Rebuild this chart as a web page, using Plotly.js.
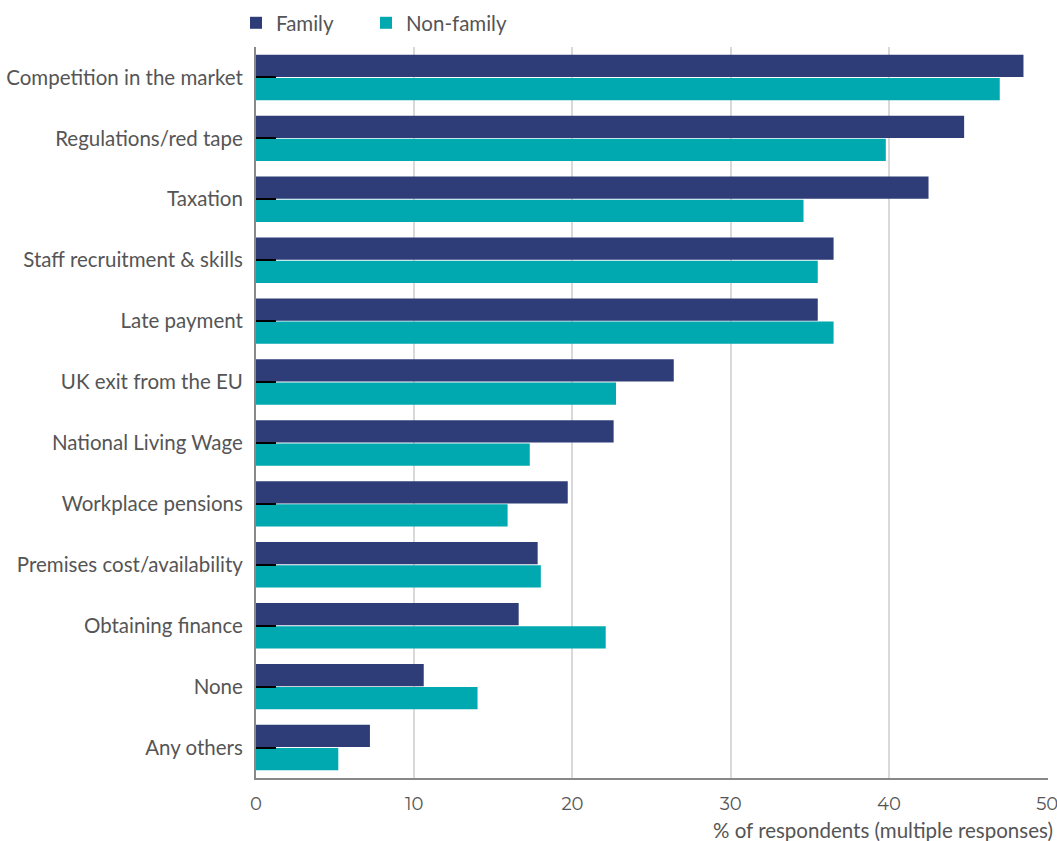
<!DOCTYPE html>
<html><head><meta charset="utf-8">
<script src="https://cdn.plot.ly/plotly-3.0.1.min.js"></script>
<style>body{margin:0;background:#fff}#chart{width:1057px;height:841px}</style>
</head><body><div id="chart"></div>
<script>
const categories = ["Competition in the market","Regulations/red tape","Taxation","Staff recruitment & skills","Late payment","UK exit from the EU","National Living Wage","Workplace pensions","Premises cost/availability","Obtaining finance","None","Any others"];
const family = [48.5,44.75,42.5,36.5,35.5,26.4,22.6,19.7,17.8,16.6,10.6,7.2];
const nonFamily = [47.0,39.8,34.6,35.5,36.5,22.75,17.3,15.9,18.0,22.1,14.0,5.2];
const xTicks = [0,10,20,30,40,50];
const xTitle = '% of respondents (multiple responses)';

const traces = [
  {type:'bar', orientation:'h', name:'Family', y:categories, x:family, marker:{color:'#2e3c78'}, legend:'legend'},
  {type:'bar', orientation:'h', name:'Non-family', y:categories, x:nonFamily, marker:{color:'#00a8b0'}, legend:'legend2'}
];
const font = {family:'Lato, "Open Sans", sans-serif', color:'#555', size:20.5};
const legBase = {orientation:'h', xref:'container', yref:'container', xanchor:'left', y:0.9727, yanchor:'middle', itemwidth:30, font:{size:20.5,color:'#555'}, bgcolor:'rgba(0,0,0,0)'};
const layout = {
  width:1057, height:841,
  margin:{l:256, r:9, t:47, b:63},
  font: font,
  showlegend:true,
  legend:Object.assign({}, legBase, {x:236/1057}),
  legend2:Object.assign({}, legBase, {x:366/1057}),
  barmode:'group', bargap:0.24, bargroupgap:0.04,
  xaxis:{range:[0,50.05], tickvals:xTicks, showgrid:true, gridcolor:'#d9d9d9', gridwidth:1.5, zeroline:false,
    showline:true, linecolor:'#888', linewidth:2, ticks:'', ticklabelstandoff:8, ticklabeloverflow:'allow',
    tickfont:{size:18, family:'Montserrat, Lato, sans-serif', color:'#555'}},
  yaxis:{autorange:'reversed', showline:true, linecolor:'#888', linewidth:2, ticks:'inside', ticklen:20, tickwidth:2, tickcolor:'#000',
    ticklabelstandoff:7, showgrid:false, tickfont:{size:20.5,color:'#555'}},
  annotations:[{text:xTitle, xref:'paper', yref:'paper', x:1, xanchor:'right', xshift:7, y:0, yanchor:'middle', yshift:-52,
    showarrow:false, font:{size:20.5,color:'#555'}}],
  plot_bgcolor:'#fff', paper_bgcolor:'#fff'
};
Plotly.newPlot('chart', traces, layout, {displayModeBar:false});
</script></body></html>
